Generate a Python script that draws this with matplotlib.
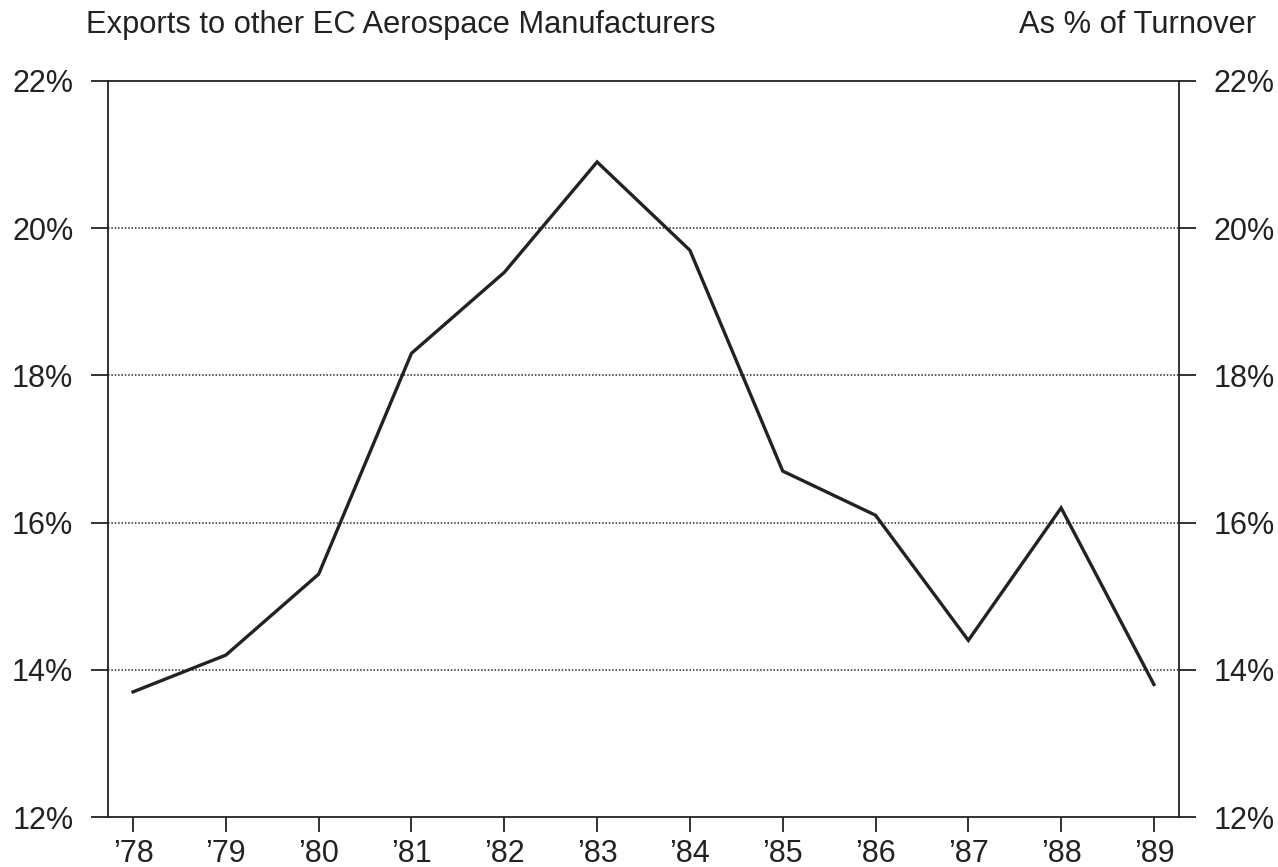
import matplotlib
matplotlib.use("Agg")
import matplotlib.pyplot as plt

# data (% of turnover)
years = [1978, 1979, 1980, 1981, 1982, 1983, 1984, 1985, 1986, 1987, 1988, 1989]
year_labels = ["\u201978", "\u201979", "\u201980", "\u201981", "\u201982", "\u201983",
               "\u201984", "\u201985", "\u201986", "\u201987", "\u201988", "\u201989"]
exports_pct = [13.7, 14.2, 15.3, 18.3, 19.4, 20.9, 19.7, 16.7, 16.1, 14.4, 16.2, 13.8]
y_ticks = [12, 14, 16, 18, 20, 22]

plt.rcParams['font.family'] = ['Liberation Sans', 'DejaVu Sans']

fig = plt.figure(figsize=(12.78, 8.67), dpi=100)
ax = fig.add_axes([108 / 1278, 1 - 817 / 867, 1071 / 1278, 736 / 867])

# dotted reference lines
for v in y_ticks[1:-1]:
    ax.axhline(v, color="#2a2a2a", lw=1.1, ls=(0, (1, 1.2)), zorder=1)

ax.plot(years, exports_pct, color="#222222", lw=2.4, solid_joinstyle="miter", zorder=3)

ax.set_xlim(1977.73, 1989.27)
ax.set_ylim(12, 22)
ax.set_xticks(years)
ax.set_xticklabels(year_labels)
ax.set_yticks(y_ticks)
ax.set_yticklabels([f"{v}%" for v in y_ticks])

for s in ax.spines.values():
    s.set_linewidth(1.3)
    s.set_color("#222222")

ax.tick_params(axis="x", direction="out", length=11, width=1.3, pad=5,
               labelsize=22, colors="#222222")
ax.tick_params(axis="y", direction="out", length=12, width=1.3, pad=13,
               labelsize=22, colors="#222222", left=True, right=True,
               labelleft=True, labelright=True)

fig.text(86 / 1278, 1 - 33 / 867, "Exports to other EC Aerospace Manufacturers",
         ha="left", va="baseline", fontsize=22.2, color="#222222")
fig.text(1256 / 1278, 1 - 33 / 867, "As % of Turnover",
         ha="right", va="baseline", fontsize=22.2, color="#222222")

fig.savefig("out.png", dpi=100)
